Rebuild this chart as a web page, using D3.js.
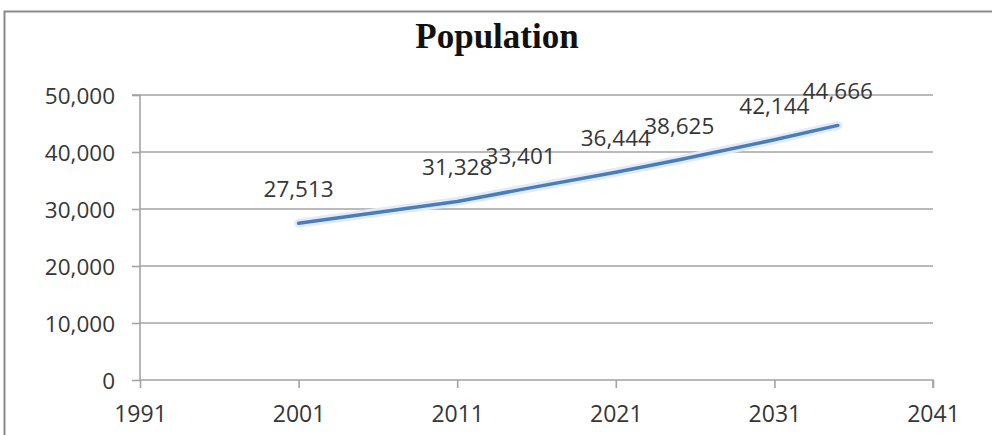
<!DOCTYPE html>
<html>
<head>
<meta charset="utf-8">
<script src="https://cdn.jsdelivr.net/npm/d3@7"></script>
<style>
  html, body { margin: 0; padding: 0; background: #fff; }
  svg { display: block; }
</style>
</head>
<body>
<svg id="chart" width="992" height="435"></svg>
<script>
// Population series: census years and projections
const years = [2001, 2011, 2015, 2021, 2025, 2031, 2035];
const population = [27513, 31328, 33401, 36444, 38625, 42144, 44666];
const xTickValues = [1991, 2001, 2011, 2021, 2031, 2041];
const yTickValues = [0, 10000, 20000, 30000, 40000, 50000];
const chartTitle = "Population";

const svg = d3.select("#chart");
const W = 992, H = 435;
const plot = { left: 140, right: 933, top: 95, bottom: 380 };

const x = d3.scaleLinear().domain([1991, 2041]).range([plot.left, plot.right]);
const y = d3.scaleLinear().domain([0, 50000]).range([plot.bottom, plot.top]);

const labelFont = "'Open Sans', 'DejaVu Sans', sans-serif";
const textColor = "#363636";
const gridColor = "#a3a3a3";

// Chart frame (open at the right and bottom edges)
svg.append("path")
  .attr("d", `M${W + 5},11.5 H4.5 V${H + 5}`)
  .attr("fill", "none")
  .attr("stroke", "#8a8a8a")
  .attr("stroke-width", 2);

// Title
svg.append("text")
  .attr("x", 497)
  .attr("y", 48)
  .attr("text-anchor", "middle")
  .attr("font-family", "'Liberation Serif', 'Times New Roman', serif")
  .attr("font-weight", "bold")
  .attr("font-size", 35)
  .attr("fill", "#111")
  .text(chartTitle);

// Horizontal gridlines
svg.append("g")
  .selectAll("line")
  .data(yTickValues.filter(d => d > 0))
  .join("line")
  .attr("x1", plot.left)
  .attr("x2", plot.right)
  .attr("y1", d => y(d))
  .attr("y2", d => y(d))
  .attr("stroke", gridColor)
  .attr("stroke-width", 1.6);

// Y axis
const yAxis = svg.append("g")
  .attr("transform", `translate(${plot.left},0)`)
  .call(d3.axisLeft(y).tickValues(yTickValues).tickSize(8).tickPadding(17)
    .tickFormat(d3.format(",")));
yAxis.select(".domain").attr("stroke", gridColor).attr("stroke-width", 1.6)
  .attr("d", `M-8,${plot.top}H0V${plot.bottom}`);
yAxis.selectAll(".tick line").attr("stroke", gridColor).attr("stroke-width", 1.6);
yAxis.selectAll(".tick text")
  .attr("font-family", labelFont)
  .attr("font-size", 22.5)
  .attr("fill", textColor)
  .attr("dy", "0.36em");

// X axis
const xAxis = svg.append("g")
  .attr("transform", `translate(0,${plot.bottom})`)
  .call(d3.axisBottom(x).tickValues(xTickValues).tickSize(8).tickPadding(18)
    .tickFormat(d3.format("d")));
xAxis.select(".domain").attr("stroke", gridColor).attr("stroke-width", 1.6)
  .attr("d", `M${plot.left},0H${plot.right}V8`);
xAxis.selectAll(".tick line").attr("stroke", gridColor).attr("stroke-width", 1.6);
xAxis.selectAll(".tick text")
  .attr("font-family", labelFont)
  .attr("font-size", 23)
  .attr("fill", textColor);

// Series line with a soft halo
const points = years.map((yr, i) => ({ year: yr, value: population[i] }));
const line = d3.line().x(d => x(d.year)).y(d => y(d.value));

svg.append("path")
  .datum(points)
  .attr("d", line)
  .attr("fill", "none")
  .attr("stroke", "#e2ebf7")
  .attr("stroke-width", 9)
  .attr("stroke-linecap", "round")
  .attr("stroke-linejoin", "round");

svg.append("path")
  .datum(points)
  .attr("d", line)
  .attr("fill", "none")
  .attr("stroke", "#4a7ebb")
  .attr("stroke-width", 3.5)
  .attr("stroke-linecap", "round")
  .attr("stroke-linejoin", "round");

// Value labels above each point
svg.append("g")
  .selectAll("text")
  .data(points)
  .join("text")
  .attr("x", d => x(d.year))
  .attr("y", d => y(d.value) - 26)
  .attr("text-anchor", "middle")
  .attr("font-family", labelFont)
  .attr("font-size", 22.5)
  .attr("fill", textColor)
  .text(d => d3.format(",")(d.value));
</script>
</body>
</html>
